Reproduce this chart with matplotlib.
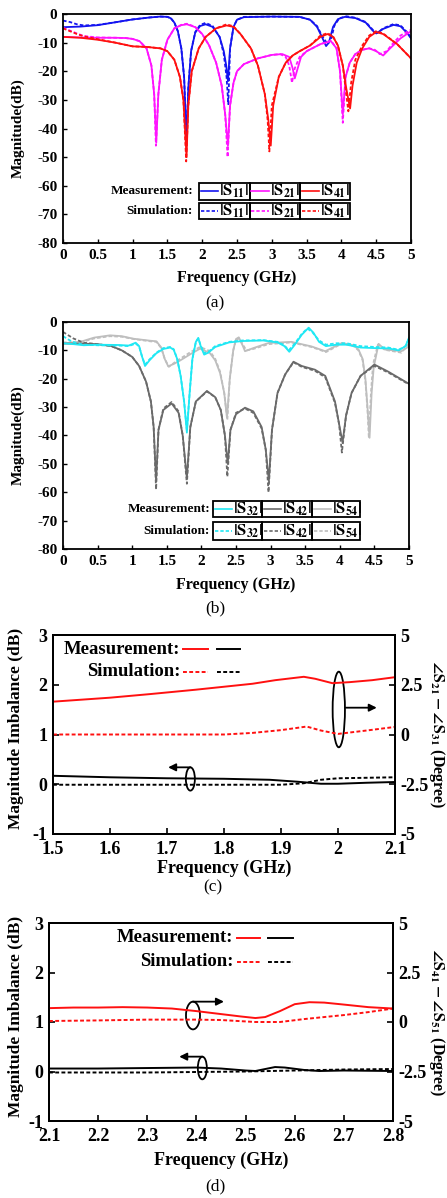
import matplotlib
matplotlib.use('Agg')
import matplotlib.pyplot as plt
from matplotlib.patches import Ellipse, Rectangle
from matplotlib.lines import Line2D

plt.rcParams['font.family'] = ['Liberation Serif', 'DejaVu Serif']
plt.rcParams['font.weight'] = 'bold'
plt.rcParams['mathtext.fontset'] = 'stix'
plt.rcParams['axes.unicode_minus'] = False

# ---------------- data: panel (a) ----------------
a_f_s11m = [0, 0.25, 0.5, 0.75, 1.0, 1.25, 1.4, 1.5, 1.55, 1.6, 1.65, 1.7, 1.74, 1.775, 1.8, 1.84, 1.9, 1.97, 2.05, 2.15, 2.25, 2.31, 2.345, 2.37, 2.4, 2.45, 2.5, 2.6, 3.0, 3.4, 3.55, 3.65, 3.72, 3.78, 3.82, 3.88, 3.95, 4.05, 4.2, 4.35, 4.45, 4.5, 4.6, 4.75, 4.85, 4.95, 5.0]
a_s11m = [-4.6, -4.4, -3.9, -2.9, -1.9, -1.2, -0.9, -1.0, -1.5, -3.0, -6.0, -12, -22, -44.5, -26, -13, -6.5, -4.2, -3.6, -4.5, -8, -13, -18, -23.5, -12, -4.5, -2.0, -1.1, -0.9, -1.0, -2.0, -4.5, -8, -11.2, -10, -4.5, -1.8, -1.0, -1.4, -3.0, -5.8, -6.8, -5.2, -3.8, -4.3, -6.8, -8.5]
a_f_s11s = [0, 0.1, 0.2, 0.3, 0.5, 0.75, 1.0, 1.25, 1.4, 1.5, 1.55, 1.6, 1.65, 1.7, 1.74, 1.775, 1.8, 1.84, 1.9, 1.97, 2.05, 2.15, 2.25, 2.31, 2.35, 2.375, 2.4, 2.45, 2.5, 2.6, 3.0, 3.4, 3.55, 3.65, 3.72, 3.8, 3.85, 3.9, 3.97, 4.07, 4.2, 4.35, 4.45, 4.52, 4.6, 4.75, 4.85, 4.95, 5.0]
a_s11s = [-2.3, -2.8, -3.6, -4.0, -3.8, -2.9, -1.9, -1.2, -0.9, -1.0, -1.5, -3.0, -6.0, -12, -22, -45, -26, -13, -6.3, -3.8, -3.1, -4.2, -8, -14, -22, -31.5, -12, -4.5, -2.0, -1.0, -0.9, -1.0, -2.0, -4.2, -7.5, -10.5, -9, -4.0, -1.5, -0.8, -1.3, -2.8, -5.5, -6.6, -5.0, -3.5, -4.0, -6.5, -8.3]

a_f_s21m = [0, 0.25, 0.5, 0.75, 0.9, 1.0, 1.1, 1.2, 1.27, 1.31, 1.34, 1.37, 1.42, 1.5, 1.6, 1.7, 1.78, 1.9, 2.0, 2.1, 2.2, 2.28, 2.33, 2.37, 2.4, 2.45, 2.5, 2.6, 2.8, 3.0, 3.15, 3.25, 3.3, 3.33, 3.36, 3.42, 3.5, 3.7, 3.85, 3.93, 3.98, 4.02, 4.06, 4.12, 4.2, 4.3, 4.4, 4.5, 4.6, 4.7, 4.85, 5.0]
a_s21m = [-8, -8.2, -8.3, -8.3, -8.4, -8.7, -9.5, -12, -18, -28, -45, -28, -16, -9, -5, -3.9, -3.6, -4.6, -7, -11, -17, -25, -35, -46, -32, -24, -20, -17.5, -15.5, -14.3, -14, -15, -19, -22.5, -20, -15, -13, -10.5, -9.5, -12, -20, -35, -22, -17, -14, -12.5, -12, -13, -14.5, -12, -8.5, -6]
a_f_s21s = [0, 0.1, 0.2, 0.3, 0.5, 0.75, 0.9, 1.0, 1.1, 1.2, 1.27, 1.31, 1.335, 1.37, 1.42, 1.5, 1.6, 1.7, 1.78, 1.9, 2.0, 2.1, 2.2, 2.28, 2.33, 2.365, 2.4, 2.45, 2.5, 2.6, 2.8, 3.0, 3.12, 3.2, 3.25, 3.29, 3.33, 3.4, 3.5, 3.7, 3.85, 3.93, 3.98, 4.02, 4.06, 4.12, 4.2, 4.3, 4.4, 4.48, 4.55, 4.65, 4.75, 4.85, 5.0]
a_s21s = [-4.8, -5.8, -6.8, -7.7, -8.2, -8.3, -8.4, -8.7, -9.5, -12, -18, -28, -46, -28, -16, -9, -5, -3.8, -3.4, -4.5, -7, -11, -17, -25, -35, -50, -32, -24, -20, -17.5, -15.5, -14.3, -14, -15, -18, -24, -19, -15, -13, -10.5, -9.3, -12, -20, -38, -22, -17, -14, -12.5, -12, -12.5, -14, -13, -10, -7.5, -5.5]

a_f_s41m = [0, 0.25, 0.5, 0.75, 1.0, 1.2, 1.4, 1.5, 1.6, 1.68, 1.73, 1.775, 1.8, 1.85, 1.95, 2.05, 2.2, 2.35, 2.45, 2.55, 2.7, 2.8, 2.9, 2.95, 2.985, 3.02, 3.1, 3.2, 3.3, 3.4, 3.55, 3.7, 3.8, 3.88, 3.95, 4.02, 4.07, 4.125, 4.16, 4.22, 4.3, 4.4, 4.5, 4.6, 4.8, 5.0]
a_s41m = [-8, -8.3, -9, -10, -11.3, -11.5, -12, -13, -16, -22, -30, -50, -32, -20, -12, -8, -5, -4, -4.5, -7, -12, -18, -28, -37, -46, -32, -22, -17, -14.5, -13, -11, -8, -7, -8, -11, -18, -26, -33, -25, -17, -12, -8, -6.3, -7, -10.5, -15.5]
a_f_s41s = [0, 0.1, 0.2, 0.3, 0.5, 0.75, 1.0, 1.2, 1.4, 1.5, 1.6, 1.68, 1.73, 1.77, 1.8, 1.85, 1.95, 2.05, 2.2, 2.35, 2.45, 2.55, 2.7, 2.8, 2.9, 2.94, 2.965, 3.0, 3.1, 3.2, 3.3, 3.4, 3.55, 3.7, 3.8, 3.88, 3.95, 4.02, 4.06, 4.1, 4.14, 4.2, 4.3, 4.4, 4.5, 4.6, 4.8, 5.0]
a_s41s = [-5, -6, -7, -7.8, -8.8, -10, -11.3, -11.5, -12, -13, -16, -22, -30, -51.5, -32, -20, -12, -8, -5, -3.6, -4.3, -7, -12, -18, -28, -37, -48, -32, -22, -17, -14.5, -13, -11, -7.5, -6.7, -7.8, -11, -18, -26, -34, -24, -16, -11, -7.5, -6, -6.8, -10.5, -15.5]

# ---------------- data: panel (b) ----------------
b_f_s32m = [0, 0.15, 0.3, 0.5, 0.8, 0.95, 1.05, 1.1, 1.14, 1.185, 1.25, 1.35, 1.45, 1.55, 1.6, 1.65, 1.7, 1.75, 1.79, 1.83, 1.87, 1.92, 1.955, 1.99, 2.04, 2.1, 2.2, 2.4, 2.6, 2.9, 3.1, 3.2, 3.27, 3.35, 3.45, 3.55, 3.62, 3.7, 3.8, 3.95, 4.1, 4.3, 4.5, 4.7, 4.85, 4.95, 5.0]
b_s32m = [-7.5, -7.8, -8.2, -8.0, -8.1, -8.3, -7.3, -8.5, -12, -15.5, -13.5, -11, -9.5, -9, -9.8, -13, -19, -28, -39, -25, -13, -7, -5.6, -8.5, -11.5, -10.8, -8.8, -7.2, -6.7, -6.5, -7.2, -8.5, -10.5, -8, -4.5, -2, -3.8, -7, -8.5, -8, -8, -9, -9.2, -9.3, -10, -8.5, -5.5]
b_f_s32s = [0, 0.1, 0.2, 0.3, 0.5, 0.8, 0.95, 1.05, 1.1, 1.14, 1.185, 1.25, 1.35, 1.45, 1.55, 1.6, 1.65, 1.7, 1.75, 1.79, 1.83, 1.87, 1.92, 1.955, 1.99, 2.04, 2.1, 2.2, 2.4, 2.6, 2.9, 3.1, 3.2, 3.26, 3.35, 3.45, 3.53, 3.6, 3.7, 3.8, 3.95, 4.1, 4.3, 4.5, 4.7, 4.85, 4.95, 5.0]
b_s32s = [-5.0, -6.5, -7.5, -8.0, -8.2, -8.3, -8.5, -7.6, -8.6, -12, -15, -13.2, -10.8, -9.2, -8.8, -9.6, -13, -19, -28, -38, -25, -13, -7, -5.8, -8.3, -11, -10.5, -8.5, -7.0, -6.5, -6.4, -7.0, -8.2, -10, -7.6, -4.2, -2.3, -3.5, -6.5, -8, -7.5, -7.5, -8.5, -8.8, -9, -9.8, -8.5, -5.8]

b_f_s42m = [0, 0.25, 0.5, 0.7, 0.85, 1.0, 1.1, 1.2, 1.27, 1.31, 1.345, 1.38, 1.45, 1.57, 1.67, 1.73, 1.79, 1.84, 1.92, 2.08, 2.2, 2.28, 2.34, 2.38, 2.42, 2.5, 2.63, 2.75, 2.87, 2.93, 2.975, 3.02, 3.1, 3.21, 3.33, 3.45, 3.64, 3.79, 3.93, 3.99, 4.04, 4.09, 4.17, 4.3, 4.5, 4.7, 5.0]
b_s42m = [-7.6, -7.6, -7.8, -8.5, -10, -12.3, -15.5, -21, -28, -37, -56, -38, -31, -28.7, -32, -40, -55, -37, -28, -24.3, -26.5, -31, -40, -50, -38, -32.5, -30.2, -31.5, -37, -45, -56, -38, -25, -18.5, -14, -15.5, -16.8, -19, -28, -36, -42.5, -33, -25, -19, -15, -17.5, -21.8]
b_f_s42s = [0, 0.15, 0.3, 0.5, 0.7, 0.85, 1.0, 1.1, 1.2, 1.27, 1.31, 1.345, 1.38, 1.45, 1.57, 1.67, 1.73, 1.79, 1.84, 1.92, 2.08, 2.2, 2.28, 2.34, 2.375, 2.42, 2.5, 2.63, 2.75, 2.87, 2.93, 2.97, 3.02, 3.1, 3.21, 3.33, 3.45, 3.64, 3.79, 3.93, 3.99, 4.03, 4.09, 4.17, 4.3, 4.5, 4.7, 5.0]
b_s42s = [-3.5, -5.8, -7.3, -7.8, -8.5, -10, -12.3, -15.5, -21, -28, -37, -59, -38, -30.5, -28.2, -31.5, -40, -57, -37, -28, -24.5, -26.5, -31, -40, -54.5, -38, -32, -30.5, -32, -37.5, -45, -60, -38, -25, -18.5, -14.2, -15.8, -17.2, -19.5, -28.5, -36, -46, -33, -25, -19, -15.5, -17.8, -22]

b_f_s54m = [0, 0.25, 0.45, 0.68, 0.85, 1.02, 1.26, 1.35, 1.42, 1.47, 1.52, 1.6, 1.69, 1.85, 1.98, 2.12, 2.2, 2.27, 2.33, 2.37, 2.41, 2.46, 2.5, 2.54, 2.6, 2.63, 2.75, 2.97, 3.3, 3.59, 3.79, 4.03, 4.2, 4.27, 4.33, 4.37, 4.4, 4.43, 4.46, 4.49, 4.56, 4.65, 4.89, 5.0]
b_s54m = [-7.5, -7, -5.5, -4.7, -5.0, -5.9, -6.6, -6.8, -9, -13, -15.6, -14.8, -13.6, -11.2, -9.4, -10.9, -13.5, -18, -25, -33.8, -20, -10, -6, -5.4, -8.5, -10.3, -9.2, -7.4, -7, -8.6, -10.3, -7.4, -8.2, -9.7, -13, -20, -30, -40.8, -25, -16, -7.7, -9.7, -10.3, -8.6]
b_f_s54s = [0, 0.25, 0.45, 0.68, 0.85, 1.02, 1.26, 1.35, 1.42, 1.47, 1.53, 1.6, 1.69, 1.85, 1.98, 2.12, 2.2, 2.27, 2.33, 2.375, 2.41, 2.46, 2.5, 2.55, 2.6, 2.65, 2.75, 2.97, 3.3, 3.59, 3.8, 4.03, 4.2, 4.27, 4.33, 4.37, 4.4, 4.42, 4.45, 4.48, 4.55, 4.65, 4.89, 5.0]
b_s54s = [-7.2, -7.2, -5.8, -5.0, -5.2, -6.0, -6.8, -7.0, -9.2, -13, -15.8, -14.5, -13, -10.5, -8.8, -10.2, -13, -17.5, -25, -34.5, -20, -10, -6.2, -5.8, -8, -10, -9.5, -7.8, -7.2, -8.8, -10.6, -7.6, -8.5, -10, -13.5, -21, -31, -41, -25, -15, -8, -9.8, -10.8, -7.5]

# ---------------- data: panel (c) ----------------
c_f_phm = [1.5, 1.6, 1.67, 1.75, 1.85, 1.89, 1.94, 1.96, 1.99, 2.02, 2.06, 2.1]
c_phm = [1.65, 1.85, 2.03, 2.25, 2.55, 2.73, 2.9, 2.8, 2.58, 2.63, 2.73, 2.88]
c_f_phs = [1.5, 1.6, 1.7, 1.8, 1.85, 1.9, 1.945, 1.97, 2.0, 2.05, 2.1]
c_phs = [0.0, 0.0, 0.0, 0.0, 0.08, 0.22, 0.4, 0.2, 0.03, 0.2, 0.38]
c_f_magm = [1.5, 1.6, 1.7, 1.8, 1.88, 1.93, 1.97, 2.0, 2.05, 2.1]
c_magm = [0.17, 0.14, 0.12, 0.11, 0.09, 0.05, 0.01, 0.01, 0.03, 0.045]
c_f_mags = [1.5, 1.7, 1.9, 1.94, 1.97, 2.0, 2.1]
c_mags = [-0.01, -0.01, -0.01, 0.02, 0.09, 0.12, 0.14]

# ---------------- data: panel (d) ----------------
d_f_phm = [2.1, 2.15, 2.2, 2.25, 2.3, 2.35, 2.4, 2.45, 2.49, 2.52, 2.54, 2.57, 2.6, 2.63, 2.66, 2.7, 2.75, 2.8]
d_phm = [0.70, 0.73, 0.73, 0.75, 0.73, 0.68, 0.55, 0.4, 0.28, 0.2, 0.25, 0.55, 0.9, 1.0, 0.98, 0.88, 0.75, 0.68]
d_f_phs = [2.1, 2.2, 2.3, 2.4, 2.45, 2.52, 2.57, 2.62, 2.7, 2.75, 2.8]
d_phs = [0.05, 0.08, 0.12, 0.12, 0.1, 0.0, 0.0, 0.15, 0.35, 0.5, 0.68]
d_f_magm = [2.1, 2.2, 2.3, 2.4, 2.45, 2.5, 2.52, 2.54, 2.56, 2.58, 2.62, 2.65, 2.7, 2.8]
d_magm = [0.06, 0.06, 0.07, 0.08, 0.06, 0.02, 0.01, 0.05, 0.09, 0.08, 0.03, 0.01, 0.02, 0.01]
d_f_mags = [2.1, 2.3, 2.5, 2.6, 2.7, 2.8]
d_mags = [-0.02, -0.02, 0.0, 0.02, 0.04, 0.05]

# ticks
s_xticks = [0, 0.5, 1, 1.5, 2, 2.5, 3, 3.5, 4, 4.5, 5]
s_xlabels = ['0', '0.5', '1', '1.5', '2', '2.5', '3', '3.5', '4', '4.5', '5']
s_yticks = [0, -10, -20, -30, -40, -50, -60, -70, -80]
s_ylabels = ['0', '-10', '-20', '-30', '-40', '-50', '-60', '-70', '-80']
c_xticks = [1.5, 1.6, 1.7, 1.8, 1.9, 2.0, 2.1]
c_xlabels = ['1.5', '1.6', '1.7', '1.8', '1.9', '2', '2.1']
d_xticks = [2.1, 2.2, 2.3, 2.4, 2.5, 2.6, 2.7, 2.8]
d_xlabels = ['2.1', '2.2', '2.3', '2.4', '2.5', '2.6', '2.7', '2.8']
imb_yticks = [-1, 0, 1, 2, 3]
imb_ylabels = ['-1', '0', '1', '2', '3']
ph_yticks = [-5, -2.5, 0, 2.5, 5]
ph_ylabels = ['-5', '-2.5', '0', '2.5', '5']

BLUE = '#1414F0'
MAG = '#FF14FF'
RED = '#FF1010'
CYAN = '#20E8F4'
DGRAY = '#6A6A6A'
LGRAY = '#BEBEBE'
DOT = (0, (2.0, 1.2))

W, H = 447, 1198
fig = plt.figure(figsize=(W / 100, H / 100), dpi=100)


def box(l, t, r, b):
    return [l / W, 1 - b / H, (r - l) / W, (b - t) / H]


def fx(x):
    return x / W


def fy(y):
    return 1 - y / H


def setup_s(ax, l, r, t, b, xlab_y, ylab_x):
    ax.set_xlim(0, 5)
    ax.set_ylim(-80, 0)
    ax.set_xticks(s_xticks)
    ax.set_xticklabels(s_xlabels)
    ax.set_yticks(s_yticks)
    ax.set_yticklabels(s_ylabels)
    ax.tick_params(direction='in', length=3, width=1.0, labelsize=11, pad=4)
    for s in ax.spines.values():
        s.set_linewidth(1.3)
    ax.set_xlabel('Frequency (GHz)', fontsize=11.5, fontweight='bold')
    ax.xaxis.set_label_coords(0.5, (b - xlab_y) / (b - t))
    ax.xaxis.label.set_va('center')
    ax.set_ylabel('Magnitude(dB)', fontsize=11, fontweight='bold')
    ax.yaxis.set_label_coords((ylab_x - l) / (r - l), 0.5)
    ax.yaxis.label.set_va('center')


def legend_table(rows_y, cols_x, labels, colors, textx, lab_fs=12):
    names = ['Measurement:', 'Simulation:']
    styles = ['-', DOT]
    for ri, (t, b) in enumerate(rows_y):
        yc = (t + b) / 2
        fig.text(fx(textx), fy(yc), names[ri], ha='right', va='center',
                 fontsize=9.5, fontweight='bold')
        for ci in range(3):
            x0, x1 = cols_x[ci], cols_x[ci + 1]
            fig.add_artist(Rectangle((fx(x0), fy(b)), (x1 - x0) / W, (b - t) / H,
                                     transform=fig.transFigure, fill=False,
                                     lw=1.3, ec='black'))
            fig.add_artist(Line2D([fx(x0 + 1.5), fx(x0 + 19)], [fy(yc), fy(yc)],
                                  transform=fig.transFigure, color=colors[ci],
                                  lw=1.2, linestyle=styles[ri]))
            fig.text(fx(x0 + 20), fy(yc), labels[ci], ha='left', va='center',
                     fontsize=lab_fs)


# ---------------- panel (a) ----------------
axa = fig.add_axes(box(63, 14, 411, 243))
axa.plot(a_f_s11m, a_s11m, color=BLUE, lw=1.3)
axa.plot(a_f_s11s, a_s11s, color=BLUE, lw=1.3, linestyle=DOT)
axa.plot(a_f_s21m, a_s21m, color=MAG, lw=1.3)
axa.plot(a_f_s21s, a_s21s, color=MAG, lw=1.3, linestyle=DOT)
axa.plot(a_f_s41m, a_s41m, color=RED, lw=1.3)
axa.plot(a_f_s41s, a_s41s, color=RED, lw=1.3, linestyle=DOT)
setup_s(axa, 63, 411, 14, 243, 277.7, 18)
legend_table([(182.7, 200), (202.7, 219.3)], [199.3, 250, 300, 350],
             [r'$\mathbf{|S_{11}|}$', r'$\mathbf{|S_{21}|}$', r'$\mathbf{|S_{41}|}$'],
             [BLUE, MAG, RED], 193)
fig.text(fx(215), fy(303), '(a)', ha='center', va='center', fontsize=12.5, fontweight='normal')

# ---------------- panel (b) ----------------
axb = fig.add_axes(box(63, 322, 409, 549))
axb.plot(b_f_s54m, b_s54m, color=LGRAY, lw=1.3)
axb.plot(b_f_s54s, b_s54s, color=LGRAY, lw=1.3, linestyle=DOT)
axb.plot(b_f_s42m, b_s42m, color=DGRAY, lw=1.3)
axb.plot(b_f_s42s, b_s42s, color=DGRAY, lw=1.3, linestyle=DOT)
axb.plot(b_f_s32m, b_s32m, color=CYAN, lw=1.3)
axb.plot(b_f_s32s, b_s32s, color=CYAN, lw=1.3, linestyle=DOT)
setup_s(axb, 63, 409, 322, 549, 585, 18)
legend_table([(500.7, 517.3), (522, 540)], [213, 262, 312, 360],
             [r'$\mathbf{|S_{32}|}$', r'$\mathbf{|S_{42}|}$', r'$\mathbf{|S_{54}|}$'],
             [CYAN, DGRAY, LGRAY], 210)
fig.text(fx(215), fy(608), '(b)', ha='center', va='center', fontsize=12.5, fontweight='normal')


# ---------------- panels (c), (d) ----------------
def setup_imb(ax, ax2, l, r, t, b, xlim, xticks, xlabels, rlabel, xlab_y):
    ax.set_xlim(*xlim)
    ax.set_ylim(-1, 3)
    ax.set_xticks(xticks)
    ax.set_xticklabels(xlabels)
    ax.set_yticks(imb_yticks)
    ax.set_yticklabels(imb_ylabels)
    ax2.set_ylim(-5, 5)
    ax2.set_yticks(ph_yticks)
    ax2.set_yticklabels(ph_ylabels)
    ax.tick_params(direction='in', length=4, width=1.2, labelsize=13, pad=5)
    ax.tick_params(axis='y', pad=4)
    ax2.tick_params(direction='in', length=4, width=1.2, labelsize=13, pad=4)
    for s in list(ax.spines.values()) + list(ax2.spines.values()):
        s.set_linewidth(1.4)
    ax.set_xlabel('Frequency (GHz)', fontsize=13, fontweight='bold')
    ax.xaxis.set_label_coords(0.5, (b - xlab_y) / (b - t))
    ax.xaxis.label.set_va('center')
    ax.set_ylabel('Magnitude Imbalance (dB)', fontsize=12.5, fontweight='bold')
    ax.yaxis.set_label_coords((16 - l) / (r - l), 0.53)
    ax.yaxis.label.set_va('center')
    ax2.set_ylabel(rlabel, fontsize=11.5, fontweight='bold', rotation=270)
    ax2.yaxis.set_label_coords((437 - l) / (r - l), 0.5)
    ax2.yaxis.label.set_va('center')


def imb_legend(tx, y1, y2, xr0, xr1, xk0, xk1):
    fig.text(fx(tx), fy(y1), 'Measurement:', ha='right', va='center', fontsize=13.5, fontweight='bold')
    fig.text(fx(tx), fy(y2), 'Simulation:', ha='right', va='center', fontsize=13.5, fontweight='bold')
    for yy, ls in ((y1, '-'), (y2, DOT)):
        fig.add_artist(Line2D([fx(xr0), fx(xr1)], [fy(yy), fy(yy)], transform=fig.transFigure,
                              color=RED, lw=1.4, linestyle=ls))
        fig.add_artist(Line2D([fx(xk0), fx(xk1)], [fy(yy), fy(yy)], transform=fig.transFigure,
                              color='black', lw=1.4, linestyle=ls))


def ell_arrow(ax, cx, cy, w, h, x_start, x_end, y_arrow):
    ax.add_patch(Ellipse((cx, cy), w, h, fill=False, lw=1.3, ec='black', zorder=5))
    ax.annotate('', xy=(x_end, y_arrow), xytext=(x_start, y_arrow),
                arrowprops=dict(arrowstyle='-|>', lw=1.3, color='black',
                                mutation_scale=11, shrinkA=0, shrinkB=0), zorder=5)


axc = fig.add_axes(box(53, 635, 395, 834))
axc2 = axc.twinx()
axc.plot(c_f_magm, c_magm, color='black', lw=1.4)
axc.plot(c_f_mags, c_mags, color='black', lw=1.4, linestyle=DOT)
axc2.plot(c_f_phm, c_phm, color=RED, lw=1.4)
axc2.plot(c_f_phs, c_phs, color=RED, lw=1.4, linestyle=DOT)
setup_imb(axc, axc2, 53, 395, 635, 834, (1.5, 2.1), c_xticks, c_xlabels,
          r'$\angle\mathrm{S}_{21}-\angle\mathrm{S}_{31}$ (Degree)', 868.3)
ell_arrow(axc, 2.0014, 1.503, 0.0216, 1.52, 2.0137, 2.068, 1.539)
ell_arrow(axc, 1.741, 0.106, 0.0158, 0.468, 1.741, 1.702, 0.34)
imb_legend(180, 649, 672, 183, 208, 217, 240)
fig.text(fx(213), fy(887), '(c)', ha='center', va='center', fontsize=12.5, fontweight='normal')

axd = fig.add_axes(box(49, 923, 393, 1121))
axd2 = axd.twinx()
axd.plot(d_f_magm, d_magm, color='black', lw=1.4)
axd.plot(d_f_mags, d_mags, color='black', lw=1.4, linestyle=DOT)
axd2.plot(d_f_phm, d_phm, color=RED, lw=1.4)
axd2.plot(d_f_phs, d_phs, color=RED, lw=1.4, linestyle=DOT)
setup_imb(axd, axd2, 49, 393, 923, 1121, (2.1, 2.8), d_xticks, d_xlabels,
          r'$\angle\mathrm{S}_{41}-\angle\mathrm{S}_{51}$ (Degree)', 1160.7)
ell_arrow(axd, 2.393, 1.131, 0.0285, 0.56, 2.393, 2.456, 1.411)
ell_arrow(axd, 2.412, 0.071, 0.0183, 0.457, 2.412, 2.365, 0.30)
imb_legend(233, 938, 962, 237, 260, 268, 293)
fig.text(fx(215), fy(1186), '(d)', ha='center', va='center', fontsize=12.5, fontweight='normal')

fig.savefig('out.png', dpi=100)
